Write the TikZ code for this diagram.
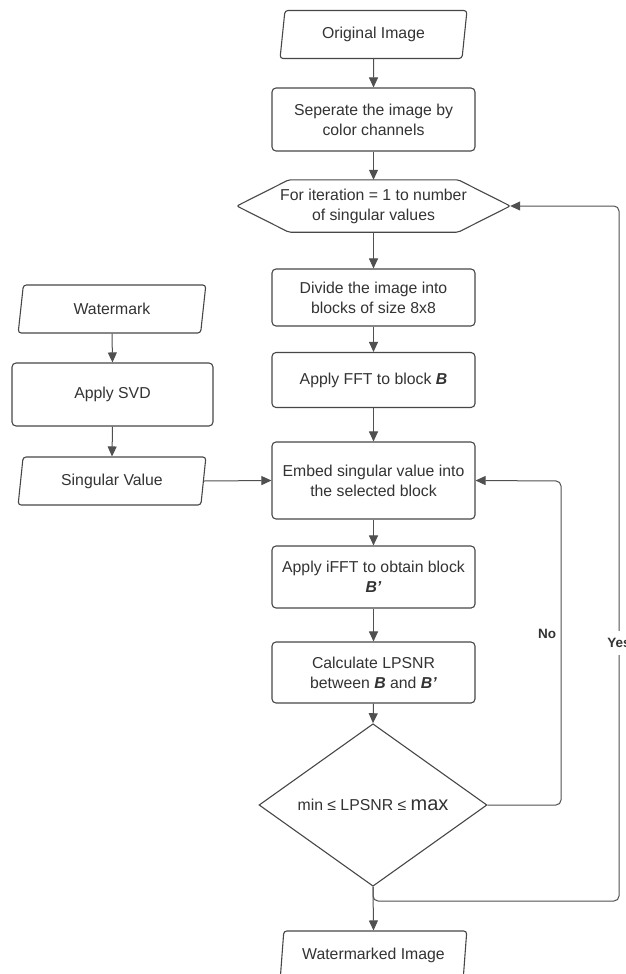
\documentclass[tikz,border=0pt]{standalone}
\usepackage{fontspec}
\setmainfont{Liberation Sans}
\usetikzlibrary{shapes.geometric,arrows.meta}
\definecolor{ink}{HTML}{333333}
\definecolor{edge}{HTML}{474747}
\definecolor{wire}{HTML}{505050}

\begin{document}
\begin{tikzpicture}[x=1pt,y=-1pt,
  font=\fontsize{15.8}{20}\selectfont, text=ink,
  procbox/.style={draw=edge, line width=1.1pt, rounded corners=4pt,
    minimum width=203pt, align=center, inner sep=0pt},
  iobox/.style={draw=edge, line width=1.1pt, trapezium,
    trapezium left angle=79, trapezium right angle=101,
    trapezium stretches=true, rounded corners=3pt,
    minimum width=187pt, minimum height=48pt, inner sep=0pt},
  flow/.style={draw=wire, line width=1pt, -{Triangle[length=10pt,width=9pt]}},
  ret/.style={flow, rounded corners=5pt},
  tag/.style={font=\fontsize{13.5}{16}\selectfont\bfseries, text=ink},
]
\useasboundingbox (0,0) rectangle (626,974);
\fill[white] (0,0) rectangle (626,974);
\clip (0,0) rectangle (626,974);

% main column
\node[iobox] (orig) at (373.5,34.5) {Original Image};
\node[procbox, minimum height=63pt] (sep) at (373.5,119.5)
  {Seperate the image by\\color channels};
\node[minimum width=273pt, minimum height=52pt, inner sep=0pt, align=center]
  (iter) at (373.5,206) {For iteration = 1 to number\\of singular values};
\draw[draw=edge, line width=1.1pt, rounded corners=2pt]
  (iter.west) -- ([xshift=52pt]iter.north west) -- ([xshift=-52pt]iter.north east)
  -- (iter.east) -- ([xshift=-52pt]iter.south east) -- ([xshift=52pt]iter.south west)
  -- cycle;
\node[procbox, minimum height=57pt] (div) at (373.5,297.5)
  {Divide the image into\\blocks of size 8x8};
\node[procbox, minimum height=55pt] (fft) at (373.5,380)
  {Apply FFT to block \textbf{\textit{B}}};
\node[procbox, minimum height=77pt] (embed) at (373.5,480.5)
  {Embed singular value into\\the selected block};
\node[procbox, minimum height=62pt] (ifft) at (373.5,577)
  {Apply iFFT to obtain block\\\textbf{\textit{B'}}};
\node[procbox, minimum height=61pt] (calc) at (373.5,672.5)
  {Calculate LPSNR\\between \textbf{\textit{B}} and \textbf{\textit{B'}}};
\node[diamond, draw=edge, line width=1.1pt, minimum width=228pt,
  minimum height=126pt, inner sep=0pt] (test) at (373,805)
  {min ≤ LPSNR ≤ {\fontsize{20}{20}\selectfont max}};
\node[iobox] (wmimg) at (373.5,955) {Watermarked Image};

% watermark column
\node[iobox, minimum width=188pt] (wm) at (112,309) {Watermark};
\node[procbox, minimum width=201pt, minimum height=63pt] (svd) at (112.5,394.5)
  {Apply SVD};
\node[iobox, minimum width=188pt] (sv) at (112,481) {Singular Value};

% forward flow
\draw[flow] (orig.south) -- (sep.north);
\draw[flow] (sep.south) -- (iter.north);
\draw[flow] (iter.south) -- (div.north);
\draw[flow] (div.south) -- (fft.north);
\draw[flow] (fft.south) -- (embed.north);
\draw[flow] (embed.south) -- (ifft.north);
\draw[flow] (ifft.south) -- (calc.north);
\draw[flow] (calc.south) -- (test.north);
\draw[flow] (test.south) -- (wmimg.north);
\draw[flow] (wm.south) -- (svd.north);
\draw[flow] (svd.south) -- (sv.north);
\draw[flow] (sv.east) -- (embed.west);

% loops back
\coordinate (nobend) at (561,481);
\draw[ret] (test.east) -| (nobend) -- (embed.east);
\coordinate (yesfoot) at (619,901);
\draw[ret] (test.south) |- (yesfoot) |- (iter.east);

\node[tag] (nolbl) at (547,634) {No};
\node[tag, fill=white, inner xsep=1pt, inner ysep=7pt] (yeslbl) at (619,643) {Yes};
\end{tikzpicture}
\end{document}
